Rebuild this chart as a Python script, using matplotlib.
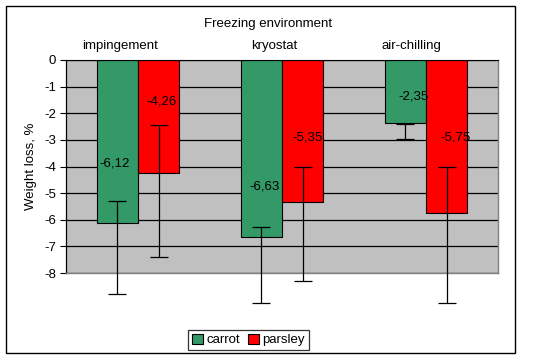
import matplotlib
matplotlib.use("Agg")
import matplotlib.pyplot as plt
import numpy as np
from matplotlib.patches import Rectangle

categories = ["impingement", "kryostat", "air-chilling"]
series_names = ["carrot", "parsley"]
carrot = [-6.12, -6.63, -2.35]
parsley = [-4.26, -5.35, -5.75]
# error bar ends (upper, lower)
carrot_err_top = [-5.31, -6.27, -2.41]
carrot_err_bot = [-8.77, -9.11, -2.96]
parsley_err_top = [-2.43, -4.00, -4.00]
parsley_err_bot = [-7.39, -8.31, -9.11]
carrot_labels = ["-6,12", "-6,63", "-2,35"]
parsley_labels = ["-4,26", "-5,35", "-5,75"]
yticks = [0, -1, -2, -3, -4, -5, -6, -7, -8]

# label placement (style)
carrot_label_y = [-3.88, -4.76, -1.38]
parsley_label_y = [-1.57, -2.90, -2.90]
carrot_label_dx = [-0.02, 0.025, 0.055]
parsley_label_dx = [0.02, 0.03, 0.06]
cat_label_dx = [-0.125, -0.055, -0.10]   # in category units
title_dx = -0.10

plt.rcParams['font.family'] = ['Liberation Sans', 'DejaVu Sans']
W, H = 533, 362
fig = plt.figure(figsize=(W / 100, H / 100), dpi=100)
fig.patch.set_facecolor("white")

# outer border
fig.patches.append(Rectangle((6 / W, 1 - 353 / H), (515 - 6) / W, (353 - 6) / H,
                             transform=fig.transFigure, fill=False, edgecolor="black", lw=1.0))

ax = fig.add_axes([66 / W, 1 - 273 / H, (498 - 66) / W, (273 - 60) / H])
ax.set_facecolor("#c0c0c0")
x = np.arange(len(categories))
bw = 0.288
green = "#339966"
red = "#ff0000"

ax.bar(x - bw / 2, carrot, bw, color=green, edgecolor="black", lw=0.8, zorder=2, label=series_names[0])
ax.bar(x + bw / 2, parsley, bw, color=red, edgecolor="black", lw=0.8, zorder=2, label=series_names[1])

def draw_err(xs, tops, bots):
    t = np.array(tops)
    b = np.array(bots)
    ax.errorbar(xs, (t + b) / 2, yerr=(t - b) / 2, fmt="none", ecolor="black",
                elinewidth=0.9, capsize=6.5, capthick=0.9, clip_on=False, zorder=4)

draw_err(x - bw / 2, carrot_err_top, carrot_err_bot)
draw_err(x + bw / 2, parsley_err_top, parsley_err_bot)

for xi, dx, ly, t in zip(x - bw / 2, carrot_label_dx, carrot_label_y, carrot_labels):
    ax.text(xi + dx, ly, t, ha="center", va="center", fontsize=9.5, zorder=5)
for xi, dx, ly, t in zip(x + bw / 2, parsley_label_dx, parsley_label_y, parsley_labels):
    ax.text(xi + dx, ly, t, ha="center", va="center", fontsize=9.5, zorder=5)

ax.set_xlim(-0.5, 2.5)
ax.set_ylim(-8, 0)
ax.set_yticks(yticks)
ax.set_yticklabels([str(v) for v in yticks], fontsize=9.5)
ax.yaxis.grid(True, color="black", lw=0.9, zorder=1)
ax.set_axisbelow(True)
ax.tick_params(axis="y", direction="out", length=4, width=0.8, pad=3)
ax.set_xticks([])

# category labels above the plot
for xi, dx, c in zip(x, cat_label_dx, categories):
    ax.annotate(c, xy=(xi + dx, 1), xycoords=("data", "axes fraction"),
                xytext=(0, 14), textcoords="offset pixels",
                ha="center", va="center", fontsize=9.5)
ax.annotate("Freezing environment", xy=(0.5 + title_dx / 3, 1), xycoords="axes fraction",
            xytext=(0, 36), textcoords="offset pixels", ha="center", va="center", fontsize=9.5)

ax.set_ylabel("Weight loss, %", fontsize=9.5, labelpad=5)

for s in ["bottom", "right"]:
    ax.spines[s].set_color("#808080")
    ax.spines[s].set_linewidth(1.0)
ax.spines["top"].set_color("black")
ax.spines["left"].set_color("black")
ax.spines["left"].set_linewidth(0.9)

leg = fig.legend(loc="center", bbox_to_anchor=(248.5 / W, 1 - 340 / H), ncol=2, fontsize=9.5,
                 frameon=True, fancybox=False, edgecolor="black", handlelength=0.8,
                 handleheight=0.8, handletextpad=0.3, columnspacing=0.6, borderpad=0.3)
leg.get_frame().set_linewidth(0.9)

fig.savefig("out.png", dpi=100)
